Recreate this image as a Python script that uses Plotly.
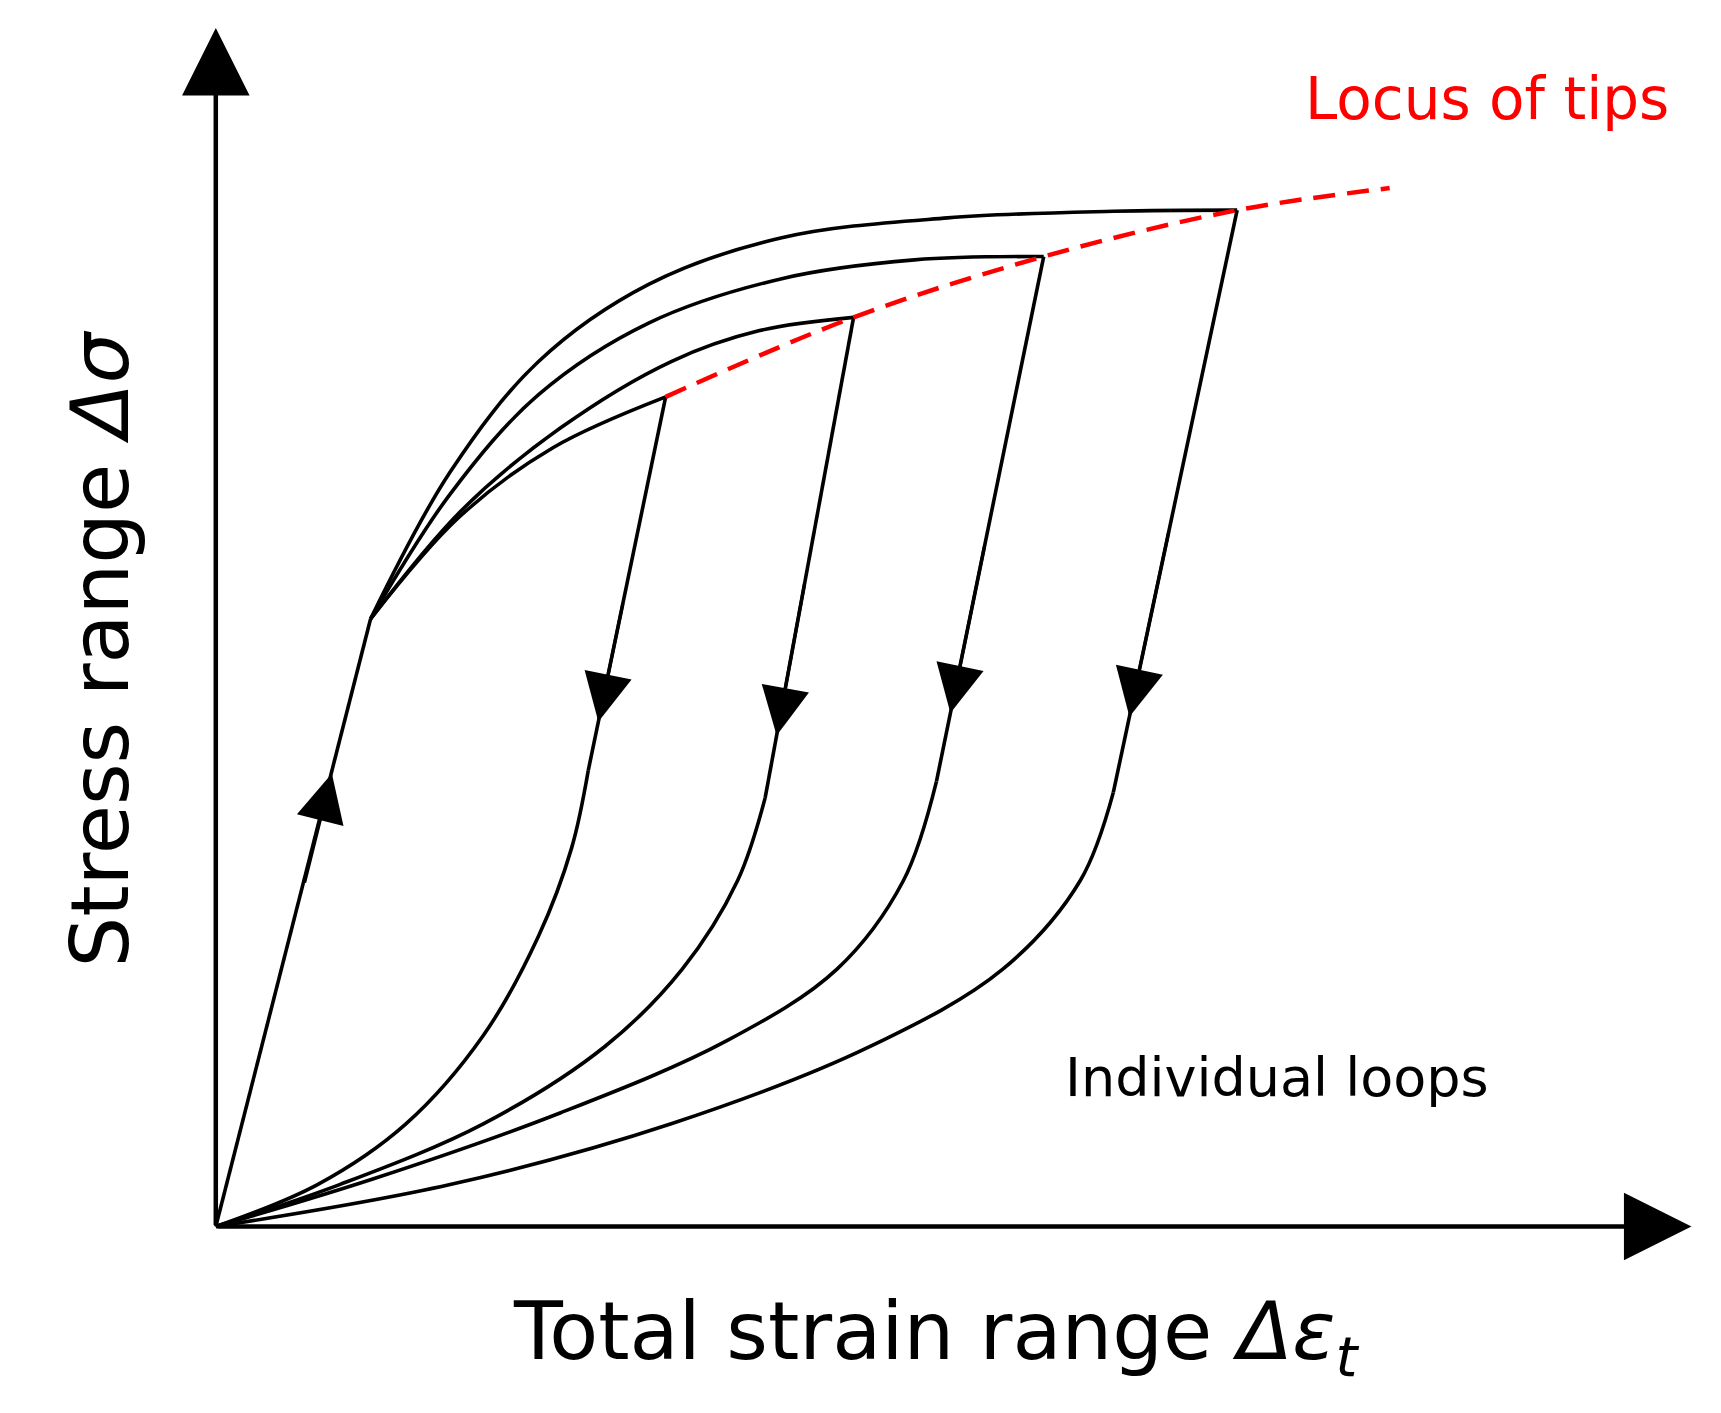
import plotly.graph_objects as go

# Schematic coordinates (strain, stress) in arbitrary units
elastic_x = [0, 140]
elastic_y = [0, 550]

load1_x = [140, 220, 305, 407]
load1_y = [550, 642, 705, 751]
load2_x = [140, 222, 312, 412, 492, 577]
load2_y = [550, 648, 723, 783, 811, 823]
load3_x = [140, 212, 292, 392, 512, 632, 749]
load3_y = [550, 663, 753, 818, 858, 875, 878]
load4_x = [140, 212, 292, 392, 512, 662, 812, 924]
load4_y = [550, 683, 783, 853, 895, 913, 919, 920]

unl1_x = [407, 337, 322, 292, 242, 172, 92, 0]
unl1_y = [751, 413, 343, 263, 173, 93, 38, 0]
unl2_x = [577, 497, 472, 422, 352, 242, 112, 0]
unl2_y = [823, 388, 313, 233, 163, 93, 38, 0]
unl3_x = [749, 652, 622, 562, 462, 312, 142, 0]
unl3_y = [878, 403, 313, 233, 168, 103, 43, 0]
unl4_x = [924, 812, 782, 712, 592, 412, 212, 0]
unl4_y = [920, 393, 313, 233, 163, 93, 38, 0]

locus_x = [407, 577, 749, 924, 1062]
locus_y = [751, 823, 878, 920, 940]

BLACK = "#000000"
fig = go.Figure()
lw = 3.6
for xs, ys in [(elastic_x, elastic_y), (load1_x, load1_y), (load2_x, load2_y), (load3_x, load3_y),
               (load4_x, load4_y)]:
    fig.add_trace(go.Scatter(x=xs, y=ys, mode="lines", line=dict(color=BLACK, width=lw, shape="spline", smoothing=1.0)))
for xs, ys in [(unl1_x, unl1_y), (unl2_x, unl2_y), (unl3_x, unl3_y), (unl4_x, unl4_y)]:
    fig.add_trace(go.Scatter(x=xs[:2], y=ys[:2], mode="lines", line=dict(color=BLACK, width=lw)))
    fig.add_trace(go.Scatter(x=xs[1:], y=ys[1:], mode="lines", line=dict(color=BLACK, width=lw, shape="spline", smoothing=1.0)))
fig.add_trace(go.Scatter(x=locus_x, y=locus_y, mode="lines",
                         line=dict(color="#ff0000", width=4.5, dash="22px,12px", shape="spline")))

ann = []
def arrow(x0, y0, x1, y1, size, width):
    ann.append(dict(x=x1, y=y1, ax=x0, ay=y0, xref="x", yref="y", axref="x", ayref="y",
                    showarrow=True, arrowhead=2, arrowsize=size, arrowwidth=width, arrowcolor=BLACK, text=""))

# axes
arrow(0, 0, 0, 1085, 3.0, 4.5)
arrow(0, 0, 1335, 0, 3.0, 4.5)
# direction arrows
arrow(80, 310, 105, 410, 3.0, 3.2)
for (xs, ys) in [(unl1_x, unl1_y), (unl2_x, unl2_y), (unl3_x, unl3_y), (unl4_x, unl4_y)]:
    x0, y0, x1, y1 = xs[0], ys[0], xs[1], ys[1]
    t0, t1 = 0.55, 0.87
    arrow(x0 + (x1 - x0) * t0, y0 + (y1 - y0) * t0, x0 + (x1 - x0) * t1, y0 + (y1 - y0) * t1, 3.0, 3.2)

ann.append(dict(x=1150, y=1021, xref="x", yref="y", text="Locus of tips", showarrow=False,
                font=dict(size=58, color="#ff0000", family="DejaVu Sans")))
ann.append(dict(x=960, y=135, xref="x", yref="y", text="Individual loops", showarrow=False,
                font=dict(size=54, color=BLACK, family="DejaVu Sans")))
ann.append(dict(x=652, y=-100, xref="x", yref="y", text="Total strain range <i>Δε<sub>t</sub></i>", showarrow=False,
                font=dict(size=80, color=BLACK, family="DejaVu Sans")))
ann.append(dict(x=-104, y=523, xref="x", yref="y", text="Stress range <i>Δσ</i>", showarrow=False, textangle=-90,
                font=dict(size=80, color=BLACK, family="DejaVu Sans")))

fig.update_layout(
    width=1721, height=1413, margin=dict(l=0, r=0, t=0, b=0),
    paper_bgcolor="white", plot_bgcolor="white", showlegend=False,
    xaxis=dict(range=[-188, 1369], visible=False, fixedrange=True),
    yaxis=dict(range=[-176, 1103], visible=False, fixedrange=True),
    annotations=ann,
)
fig.write_html("out.html")
